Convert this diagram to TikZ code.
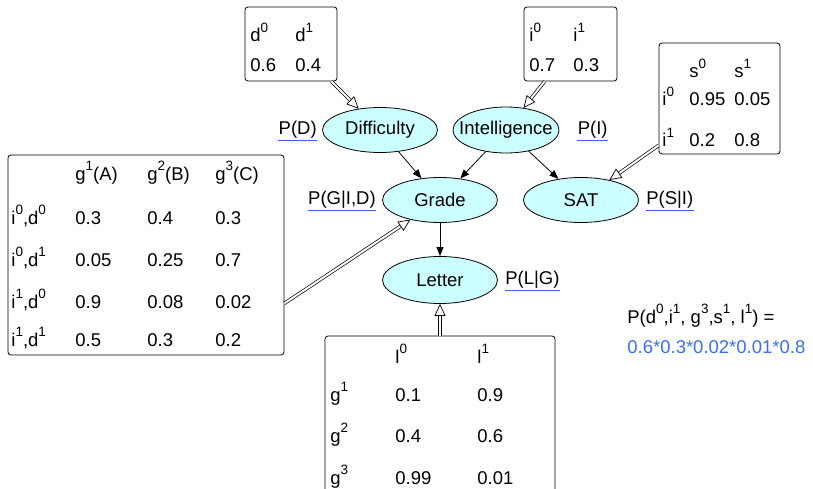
\documentclass[tikz,border=0pt]{standalone}
\usepackage{fontspec}
\setmainfont{Liberation Sans}
\usetikzlibrary{shapes.geometric,arrows.meta,positioning}
\definecolor{varfill}{RGB}{204,255,255}
\definecolor{ulblue}{RGB}{51,102,255}
\definecolor{sumblue}{RGB}{60,110,240}
\newcommand{\sps}[2]{#1\raisebox{0.5em}{\fontsize{13.5}{14}\selectfont #2}}
\newcommand{\vtext}[1]{\makebox[0pt]{#1}}

\begin{document}
\begin{tikzpicture}[x=1pt, y=-1pt, line width=0.8pt,
    every node/.style={font=\fontsize{18.5}{22}\selectfont},
    var/.style={draw, ellipse, fill=varfill, minimum width=115pt, minimum height=45pt, inner sep=0pt},
    cpd/.style={draw, rounded corners=3pt},
    cell/.style={anchor=base west, inner sep=0pt},
    lbl/.style={inner sep=0pt},
    uline/.style={draw=ulblue, line width=1.6pt},
    arr/.style={draw, -{Triangle[length=9pt,width=7pt]}},
    dbl/.style={draw, double, double distance=2pt, line width=0.7pt, -{Triangle[open,length=12pt,width=11pt]}}]
    \path[use as bounding box, clip] (0,0) rectangle (813,489);

    % variables
    \node[var] (dif) at (380,130) {\vtext{Difficulty}};
    \node[var, minimum width=106pt, minimum height=46pt] (int) at (506,130) {\vtext{Intelligence}};
    \node[var] (gra) at (440,200) {\vtext{Grade}};
    \node[var] (sat) at (581,200) {\vtext{SAT}};
    \node[var, minimum height=47pt] (let) at (440,280) {\vtext{Letter}};

    % factor names
    \node[lbl, left=5pt of dif] (pd) {P(D)};
    \node[lbl, right=18pt of int] (pi) {P(I)};
    \node[lbl, left=6pt of gra] (pg) {P(G|I,D)};
    \node[lbl, right=7pt of sat] (ps) {P(S|I)};
    \node[lbl, right=7pt of let] (pl) {P(L|G)};
    \foreach \n in {pd,pi,pg,ps,pl}
      \draw[uline] ([yshift=-1.5pt]\n.south west) -- ([yshift=-1.5pt]\n.south east);

    % tables
    \node[cpd, minimum width=92pt, minimum height=74pt] (dtab) at (291,44) {};
    \node[cpd, minimum width=93pt, minimum height=74pt] (itab) at (570.5,44) {};
    \node[cpd, minimum width=121pt, minimum height=111pt] (stab) at (719.5,98.5) {};
    \node[cpd, minimum width=276pt, minimum height=200pt] (gtab) at (146,255) {};
    \node[cpd, minimum width=230pt, minimum height=170pt] (ltab) at (440,421) {};

    \foreach \x/\y/\t [count=\k] in {250/42/{\sps{d}{0}}, 295/42/{\sps{d}{1}}, 250/72/0.6, 295/72/0.4}
      \node[cell] (d\k) at (\x,\y) {\t};
    \foreach \x/\y/\t [count=\k] in {529/42/{\sps{i}{0}}, 573/42/{\sps{i}{1}}, 529/72/0.7, 573/72/0.3}
      \node[cell] (i\k) at (\x,\y) {\t};
    \foreach \x/\y/\t [count=\k] in {689/78/{\sps{s}{0}}, 734/78/{\sps{s}{1}},
        662/106/{\sps{i}{0}}, 689/106/0.95, 734/106/0.05,
        662/147/{\sps{i}{1}}, 689/147/0.2, 734/147/0.8}
      \node[cell] (s\k) at (\x,\y) {\t};
    \foreach \x/\y/\t [count=\k] in {75/180/{\sps{g}{1}(A)}, 147/180/{\sps{g}{2}(B)}, 215/180/{\sps{g}{3}(C)},
        11/224/{\sps{i}{0},\sps{d}{0}}, 75/224/0.3, 147/224/0.4, 215/224/0.3,
        11/266/{\sps{i}{0},\sps{d}{1}}, 75/266/0.05, 147/266/0.25, 215/266/0.7,
        11/308/{\sps{i}{1},\sps{d}{0}}, 75/308/0.9, 147/308/0.08, 215/308/0.02,
        11/346/{\sps{i}{1},\sps{d}{1}}, 75/346/0.5, 147/346/0.3, 215/346/0.2}
      \node[cell] (g\k) at (\x,\y) {\t};
    \foreach \x/\y/\t [count=\k] in {395/363/{\sps{l}{0}}, 477/363/{\sps{l}{1}},
        330/401/{\sps{g}{1}}, 395/401/0.1, 477/401/0.9,
        330/442/{\sps{g}{2}}, 395/442/0.4, 477/442/0.6,
        330/484/{\sps{g}{3}}, 395/484/0.99, 477/484/0.01}
      \node[cell] (l\k) at (\x,\y) {\t};

    % edges
    \draw[arr] (dif) -- (gra);
    \draw[arr] (int) -- (gra);
    \draw[arr] (int) -- (sat);
    \draw[arr] (gra) -- (let);

    \draw[dbl] ([xshift=-6pt]dtab.south east) -- (dif);
    \draw[dbl] ([xshift=21pt]itab.south west) -- (int);
    \draw[dbl] ([yshift=9pt]stab.south west) -- (sat);
    \draw[dbl] ([yshift=52pt]gtab.south east) -- (gra);
    \draw[dbl] (ltab.north) -- (let);

    % joint probability
    \node[cell] (jp) at (627,323) {P(\sps{d}{0},\sps{i}{1}, \sps{g}{3},\sps{s}{1}, \sps{l}{1}) =};
    \node[cell, text=sumblue] (jv) at (627,353) {0.6*0.3*0.02*0.01*0.8};
\end{tikzpicture}
\end{document}
